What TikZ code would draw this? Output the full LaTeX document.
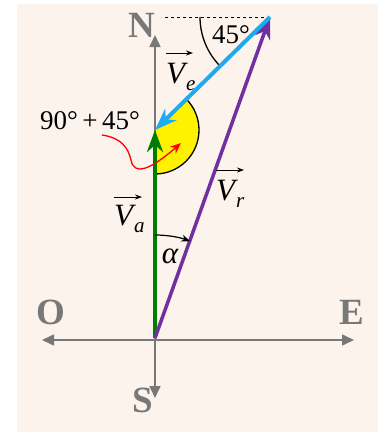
\RequirePackage{fix-cm}
\documentclass[tikz,border=0pt]{standalone}
\usepackage{fontspec}
\setmainfont{Liberation Serif}
\usetikzlibrary{arrows.meta}
\definecolor{bgpaper}{RGB}{252,243,237}
\definecolor{axisgray}{RGB}{120,120,120}
\definecolor{vagreen}{RGB}{0,125,0}
\definecolor{vrpurple}{RGB}{112,48,160}
\definecolor{veblue}{RGB}{30,170,240}
\newcommand{\vlabel}[1]{V\kern1pt\raisebox{-7pt}{\fontsize{21}{21}\selectfont #1}}

\begin{document}
\begin{tikzpicture}[
  x=1pt, y=1pt,
  every node/.style={inner sep=0pt},
  axis/.style={draw=axisgray, line width=1.6pt, -{Triangle[length=12pt,width=11pt]}},
  cardinal/.style={text=axisgray, font=\fontsize{37}{37}\selectfont\bfseries},
  vecline/.style={line width=4pt, -{Stealth[length=22pt,width=16pt,inset=7pt]}},
  veclabel/.style={anchor=north west, font=\fontsize{31}{31}\selectfont\itshape},
  overarrow/.style={line width=1pt, -{Stealth[length=7pt,width=5pt]}},
  anglabel/.style={font=\fontsize{27}{27}\selectfont}
]
\useasboundingbox (0,0) rectangle (382,-432);
\fill[bgpaper] (17,-4) rectangle (378,-432);

\coordinate (O) at (155,-338);
\coordinate (A) at (155,-130);
\coordinate (R) at (270,-17);
\coordinate (north) at (155,-35);
\coordinate (south) at (155,-398);
\coordinate (west) at (42,-340);
\coordinate (east) at (354,-340);
\coordinate (dashstart) at (165,-17);

% yellow sector between Va and Ve
\fill[yellow] (A) -- ++(-90:44) arc[start angle=-90, end angle=45, radius=44] -- cycle;
\draw[line width=1.3pt] (A) ++(-90:44) arc[start angle=-90, end angle=45, radius=44];

% axes
\draw[axis] (O |- west) -- (west);
\draw[axis] (O |- east) -- (east);
\draw[axis] (O |- west) -- (south);
\draw[axis] (O |- west) -- (north);

\node[cardinal] (lN) at (142,-25) {N};
\node[cardinal] (lO) at (51,-312) {O};
\node[cardinal] (lE) at (352,-312) {E};
\node[cardinal] (lS) at (143,-400) {S};

\draw[dashed, line width=0.8pt, dash pattern=on 3pt off 3pt] (dashstart) -- (R);
\draw[line width=1.3pt] (R) ++(180:70) arc[start angle=180, end angle=225, radius=70];
\node[anglabel] (l45) at (231,-35) {45°};

% vectors
\draw[vecline, draw=vagreen, fill=vagreen] (O) -- (A);
\draw[vecline, draw=vrpurple, fill=vrpurple, line width=3.5pt] (O) -- (R);
\draw[vecline, draw=veblue, fill=veblue] (R) -- (A);

\node[veclabel] (lVe) at (166,-63) {\vlabel{e}};
\node[veclabel] (lVa) at (114,-205) {\vlabel{a}};
\node[veclabel] (lVr) at (216,-180) {\vlabel{r}};
\draw[overarrow] ([yshift=10pt]lVe.north west) -- ++(27,0);
\draw[overarrow] ([yshift=8pt]lVa.north west) -- ++(28,0);
\draw[overarrow] ([yshift=10pt]lVr.north west) -- ++(28,0);

% angle alpha
\draw[line width=1.2pt, -{Stealth[length=9pt,width=7pt]}] (O) ++(90:103) arc[start angle=90, end angle=70, radius=103];
\node[font=\fontsize{31}{31}\selectfont\itshape] (lalpha) at (170,-256) {α};

% 90+45 pointer
\node[anglabel] (lsum) at (90,-121) {90°\,+\,45°};
\coordinate (p0) at (102,-135);
\coordinate (p2) at (181,-143);
\draw[red, line width=1.3pt, -{Stealth[length=11pt,width=9pt]}]
  (p0) .. controls (122,-138) and (128,-148) .. (131,-160)
  .. controls (134,-176) and (150,-170) .. (p2);
\end{tikzpicture}
\end{document}
